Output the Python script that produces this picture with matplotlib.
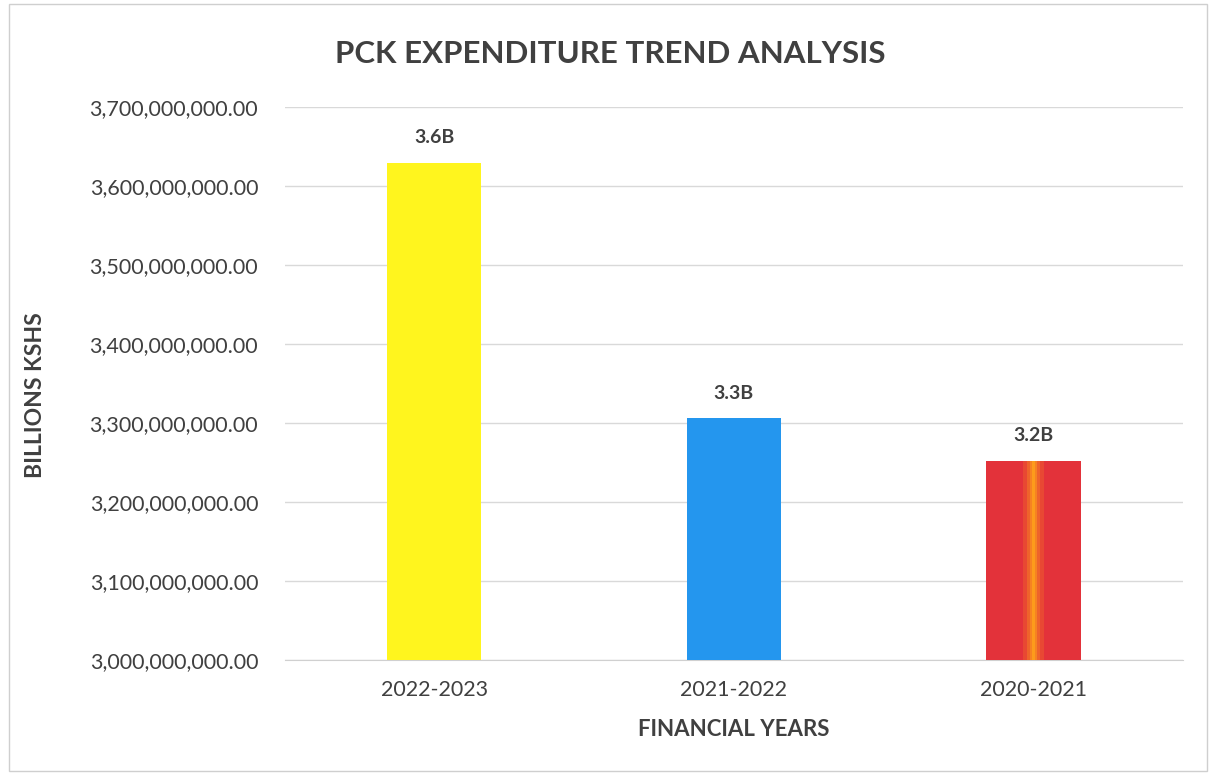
import matplotlib.pyplot as plt
from matplotlib.patches import Rectangle
from matplotlib.ticker import FuncFormatter

plt.rcParams["font.family"] = ["Lato", "DejaVu Sans"]

years = ["2022-2023", "2021-2022", "2020-2021"]
expenditure = [3_629_000_000, 3_306_000_000, 3_252_000_000]
bar_labels = ["3.6B", "3.3B", "3.2B"]
bar_colors = ["#FFF51E", "#2496EE", "#E3323A"]

y_min = 3_000_000_000
y_max = 3_700_000_000
y_step = 100_000_000

text_color = "#404040"

fig = plt.figure(figsize=(12.16, 7.75), dpi=100)
ax = fig.add_axes([0.234, 0.148, 0.739, 0.714])

x = list(range(len(years)))
width = 0.315
ax.bar(x, [v - y_min for v in expenditure], width=width, bottom=y_min,
       color=bar_colors, zorder=3)

# orange glow stripe in the middle of the last bar
glow_x = x[2]
glow_h = expenditure[2] - y_min
for w, a in [(0.07, 0.2), (0.045, 0.3), (0.025, 0.5), (0.012, 0.8)]:
    ax.bar(glow_x, glow_h, width=w, bottom=y_min, color="#FFA21A",
           alpha=a, zorder=4, linewidth=0)

for xi, v, lab in zip(x, expenditure, bar_labels):
    ax.annotate(lab, (xi, v), xytext=(0, 12), textcoords="offset points",
                ha="center", va="bottom", fontsize=14, fontweight="bold",
                color=text_color)

ax.set_xlim(-0.5, len(years) - 0.5)
ax.set_ylim(y_min, y_max)
ax.set_yticks(range(y_min, y_max + 1, y_step))
ax.yaxis.set_major_formatter(FuncFormatter(lambda v, p: f"{v:,.2f}"))
ax.set_xticks(x)
ax.set_xticklabels(years)

ax.grid(axis="y", color="#d9d9d9", linewidth=1, zorder=0)
for s in ["top", "right", "left"]:
    ax.spines[s].set_visible(False)
ax.spines["bottom"].set_color("#d0d0d0")
ax.tick_params(axis="both", length=0, labelsize=15.5, colors=text_color)
ax.tick_params(axis="y", pad=19)
ax.tick_params(axis="x", pad=14)

ax.set_xlabel("FINANCIAL YEARS", fontsize=16, fontweight="bold",
              color=text_color, labelpad=14)
fig.text(0.029, 0.49, "BILLIONS KSHS", rotation=90, ha="center",
         va="center", fontsize=16.5, fontweight="bold", color=text_color)
fig.text(0.502, 0.93, "PCK EXPENDITURE TREND ANALYSIS", ha="center",
         va="center", fontsize=22.5, fontweight="bold", color=text_color)

fig.add_artist(Rectangle((0.007, 0.005), 0.986, 0.99, transform=fig.transFigure,
                         fill=False, edgecolor="#cfcfcf", linewidth=1))

fig.savefig("out.png", dpi=100)
